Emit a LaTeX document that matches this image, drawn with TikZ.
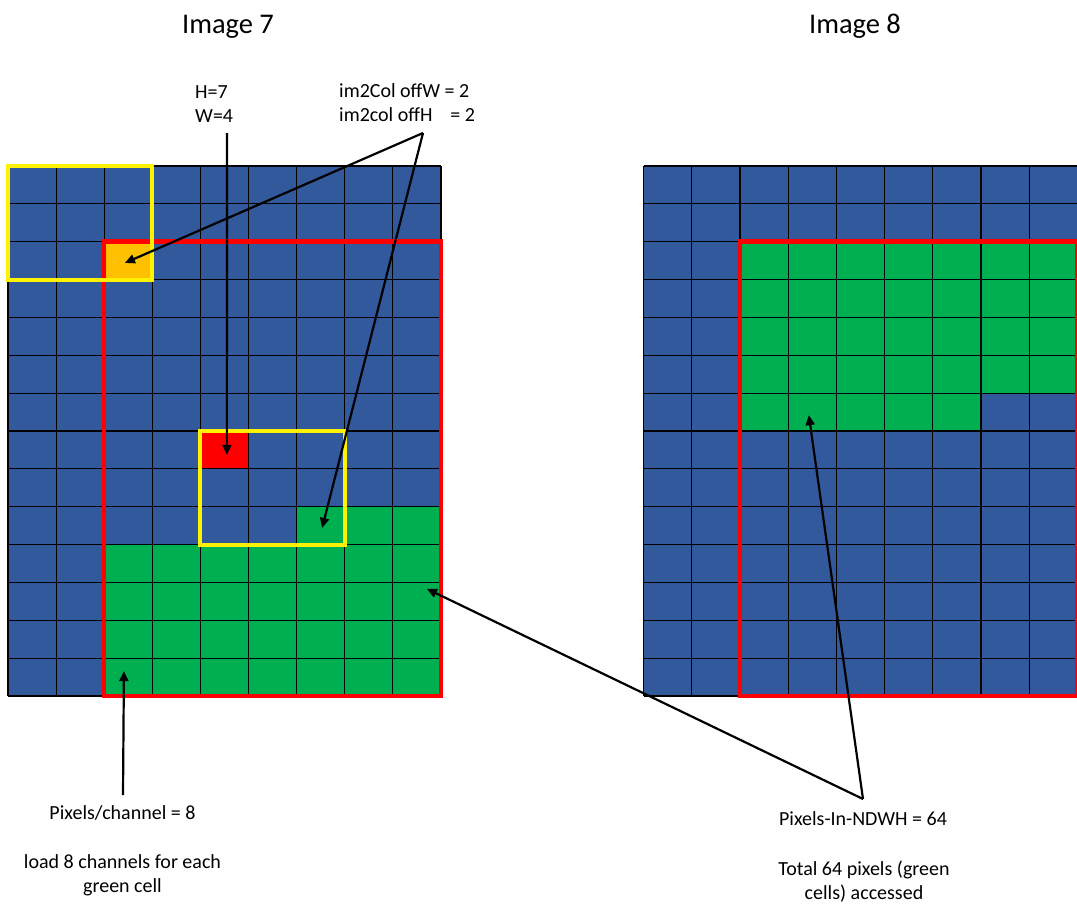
\documentclass[tikz,border=0pt]{standalone}
\usepackage{fontspec}
\setmainfont{Carlito}
\usepackage{tikz}
\usetikzlibrary{arrows.meta}
\definecolor{CellBlue}{RGB}{50,89,155}
\definecolor{CellGreen}{RGB}{0,176,80}
\definecolor{CellOrange}{RGB}{255,192,0}
\tikzset{GridLine/.style={%
    draw=black,%
    line width=1.2pt,%
}}
\tikzset{RedFrame/.style={%
    draw=red,%
    line width=4.5pt,%
}}
\tikzset{YellowFrame/.style={%
    draw=yellow,%
    line width=4pt,%
}}
\tikzset{PointerArrow/.style={%
    -{Triangle[length=10pt,width=9pt]},%
    line width=2.2pt,%
}}
\tikzset{Caption/.style={%
    font=\fontsize{20}{24}\selectfont,%
    inner sep=0pt,%
    align=center,%
}}
\tikzset{Title/.style={%
    font=\fontsize{28.5}{34}\selectfont,%
    inner sep=0pt,%
}}
\NewDocumentCommand{\gridLines}{}{%
    \foreach \c in {0,...,9} {\draw[GridLine] (\c,0) -- (\c,14);}%
    \foreach \r in {0,...,14} {\draw[GridLine] (0,\r) -- (9,\r);}%
}

\begin{document}
\begin{tikzpicture}[x=1pt, y=-1pt]
    \useasboundingbox (0,0) rectangle (1077,911);
    \fill[white] (0,0) rectangle (1077,911);

    % image 7
    \begin{scope}[shift={(8,166)}, x=48.1pt, y=-37.86pt]
        \fill[CellBlue] (0,0) rectangle (9,14);
        \fill[CellGreen] (6,9) rectangle (9,10);
        \fill[CellGreen] (2,10) rectangle (9,14);
        \fill[CellOrange] (2,2) rectangle (3,3);
        \fill[red] (4,7) rectangle (5,8);
        \gridLines
        \draw[RedFrame] (2,2) rectangle (9,14);
        \draw[YellowFrame] (0,0) rectangle (3,3);
        \draw[YellowFrame] (4,7) rectangle (7,10);
        \coordinate (orangeCell) at (2.43,2.56);
        \coordinate (redCell) at (4.55,7.63);
        \coordinate (offCell) at (6.53,9.56);
        \coordinate (firstCell) at (2.41,13.34);
        \coordinate (lastCell) at (8.71,11.17);
    \end{scope}

    % image 8
    \begin{scope}[shift={(643.5,166)}, x=48.2pt, y=-37.86pt]
        \fill[CellBlue] (0,0) rectangle (9,14);
        \fill[CellGreen] (2,2) rectangle (9,6);
        \fill[CellGreen] (2,6) rectangle (7,7);
        \gridLines
        \draw[RedFrame] (2,2) rectangle (9,14);
        \coordinate (topCell) at (3.43,6.58);
    \end{scope}

    \node[Title, anchor=base] (imgSeven) at (228,33) {Image 7};
    \node[Title, anchor=base] (imgEight) at (855,33) {Image 8};
    \node[Caption, anchor=base west, align=left] (hwLabel) at (195,122) {H=7\\W=4};
    \node[Caption, anchor=base west, align=left] (offLabel) at (339,121)
        {im2Col offW = 2\\im2col offH\hspace{0.9em}= 2};
    \node[Caption, anchor=base] (pixLabel) at (122.5,819) {Pixels/channel = 8};
    \node[Caption, anchor=base] (loadLabel) at (122.5,892) {load 8 channels for each\\green cell};
    \node[Caption, anchor=base] (ndwhLabel) at (863,825) {Pixels-In-NDWH = 64};
    \node[Caption, anchor=base] (totalLabel) at (864,899) {Total 64 pixels (green\\cells) accessed};

    \coordinate (hwFoot) at (227,133);
    \coordinate (offApex) at (423,133);
    \coordinate (pixFoot) at (123,795);
    \coordinate (ndwhApex) at (863,799);

    \draw[PointerArrow] (hwFoot) -- (redCell);
    \draw[PointerArrow] (offApex) -- (orangeCell);
    \draw[PointerArrow] (offApex) -- (offCell);
    \draw[PointerArrow] (pixFoot) -- (firstCell);
    \draw[PointerArrow] (ndwhApex) -- (lastCell);
    \draw[PointerArrow] (ndwhApex) -- (topCell);
\end{tikzpicture}
\end{document}
